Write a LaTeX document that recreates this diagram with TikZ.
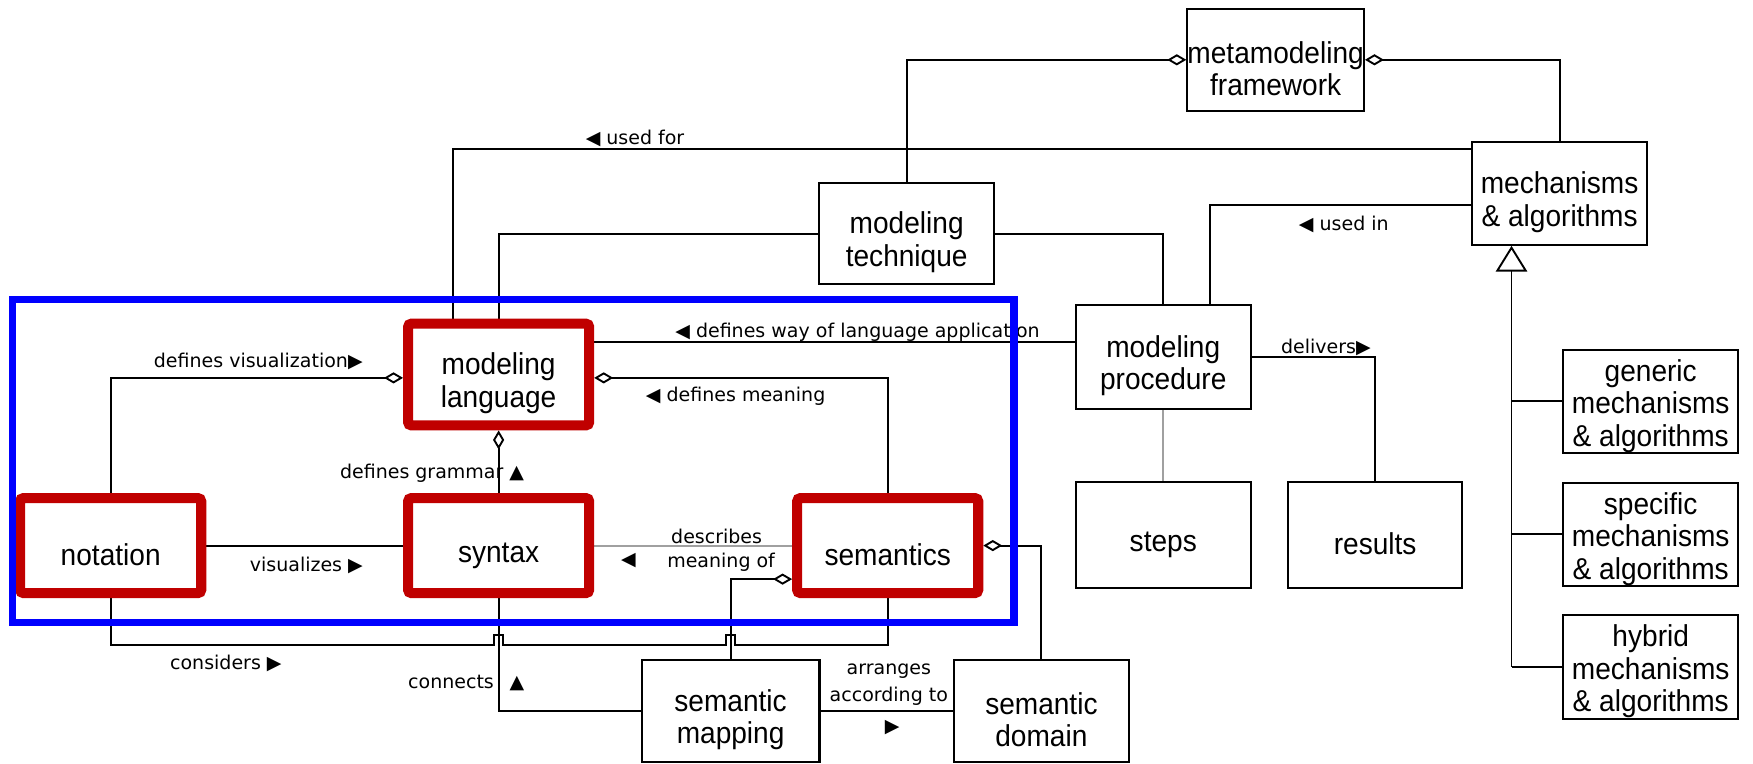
\documentclass[tikz,border=0pt]{standalone}
\usepackage{fontspec}
\setmainfont[FakeStretch=0.93]{Liberation Sans}
\newfontfamily\lblfont{DejaVu Sans}
\usetikzlibrary{arrows.meta,calc,backgrounds}
\definecolor{hlred}{RGB}{192,0,0}
\definecolor{hlblue}{RGB}{0,0,255}
\definecolor{lightline}{RGB}{160,160,160}
% zero-width strut on a box's first line: sets its text a little lower
\newcommand\boxstrut[1][35pt]{\rule{0pt}{#1}}

\begin{document}
\begin{tikzpicture}[x=1pt,y=-1pt,
  boxtext/.style={align=center, font=\fontsize{27}{29}\selectfont},
  box/.style={boxtext, draw, line width=1.8pt, fill=white, inner sep=0pt,
    minimum width=157pt, minimum height=92pt},
  redbox/.style={boxtext, draw=hlred, line width=9pt, rounded corners=3pt,
    fill=white, inner sep=0pt, outer sep=4.5pt, minimum width=162pt,
    minimum height=85pt},
  conn/.style={line width=1.7pt},
  lightconn/.style={line width=1.8pt, draw=lightline},
  aggS/.style={{Diamond[open,length=17pt,width=10pt]}-},
  aggE/.style={-{Diamond[open,length=17pt,width=10pt]}},
  lbl/.style={font=\lblfont\fontsize{17}{20}\selectfont, inner sep=0pt}
]
\useasboundingbox (0,0) rectangle (1568,683);

% plain concept boxes
\node[box, minimum width=158pt, minimum height=91pt] (mf) at (1141,53.5) {\boxstrut metamodeling\\framework};
\node[box] (mech) at (1395,173) {\boxstrut mechanisms\\\& algorithms};
\node[box, minimum height=90pt] (tech) at (811,209) {\boxstrut modeling\\technique};
\node[box, minimum height=93pt] (proc) at (1040.5,319.5) {\boxstrut modeling\\procedure};
\node[box, minimum height=95pt] (steps) at (1040.5,478.5) {\boxstrut steps};
\node[box, minimum width=156pt, minimum height=95pt] (res) at (1230,478.5) {\boxstrut results};
\node[box] (gen) at (1476.5,359) {\boxstrut[28pt]generic\\mechanisms\\\& algorithms};
\node[box] (spec) at (1476.5,478) {\boxstrut[28pt]specific\\mechanisms\\\& algorithms};
\node[box, minimum height=93pt] (hyb) at (1476.5,596.5) {\boxstrut[28pt]hybrid\\mechanisms\\\& algorithms};
\node[box, minimum width=159pt] (smap) at (653.5,636) {\boxstrut semantic\\mapping};
\node[box] (sdom) at (931.5,636) {\boxstrut semantic\\domain};

% highlighted language components
\node[redbox, minimum height=91pt] (ml) at (446,335) {\boxstrut modeling\\language};
\node[redbox] (nota) at (99,488) {\boxstrut notation};
\node[redbox] (syn) at (446,488) {\boxstrut syntax};
\node[redbox] (sem) at (794,488) {\boxstrut semantics};

% helper points
\path ($(ml.east)+(0,-29)$) coordinate (wayS);
\path ($(mech.north west)+(0,7)$) coordinate (forS);
\path ($(ml.north)+(-41,0)$) coordinate (forE);
\path ($(mech.west)+(0,10)$) coordinate (inS);
\path ($(proc.north)+(42,0)$) coordinate (inE);
\coordinate (cy) at (0,577);
\path ($(mech.south)+(-43,0)$) coordinate (gx);

\begin{scope}[on background layer]
  \fill[white] (0,0) rectangle (1568,683);
  \draw[conn, aggS] (mf.west) -| (tech.north);
  \draw[conn, aggS] (mf.east) -| (mech.north);
  \draw[conn] (forS) -| (forE);
  \draw[conn] (tech.west) -| (ml.north);
  \draw[conn] (tech.east) -| (proc.north);
  \draw[conn] (inS) -| (inE);
  \draw[conn] (wayS) -- (proc.west |- wayS);
  \draw[conn, aggS] ($(ml.west)+(0,3)$) -| (nota.north);
  \draw[conn, aggS] ($(ml.east)+(0,3)$) -| (sem.north);
  \draw[conn, aggS] (ml.south) -- (syn.north);
  \draw[conn] (nota.east) -- (syn.west);
  \draw[lightconn] (syn.east) -- (sem.west);
  \draw[conn] (nota.south) -- (nota.south |- cy)
     -- ($(syn.south |- cy)+(-4,0)$) -- ++(0,-9) -- ++(8,0) -- ++(0,9)
     -- ($(smap.north |- cy)+(-4,0)$) -- ++(0,-9) -- ++(8,0) -- ++(0,9)
     -- (sem.south |- cy) -- (sem.south);
  \draw[conn] (syn.south) |- (smap.west);
  \draw[conn, aggE] (smap.north) |- ($(sem.west)+(0,30)$);
  \draw[conn] (smap.east) -- (sdom.west);
  \draw[conn, aggS] (sem.east) -| (sdom.north);
  \draw[conn] (proc.east) -| (res.north);
  \draw[lightconn] (proc.south) -- (steps.north);
  \draw[conn, -{Triangle[open,length=23pt,width=28pt]}] (gx |- hyb.west) -- (gx);
  \draw[conn] (gx |- gen.west) -- (gen.west);
  \draw[conn] (gx |- spec.west) -- (spec.west);
  \draw[conn] (gx |- hyb.west) -- (hyb.west);
\end{scope}

% relation labels
\node[lbl] (lfor) at (568,124) {◀ used for};
\node[lbl] (lin) at (1202,201) {◀ used in};
\node[lbl] (lway) at (767,297) {◀ defines way of language application};
\node[lbl] (lvis) at (231,323) {defines visualization▶};
\node[lbl] (lmean) at (658,354) {◀ defines meaning};
\node[lbl, anchor=east] (lgram) at (469,423) {defines grammar ▲};
\node[lbl] (lvz) at (274,506) {visualizes ▶};
\node[lbl] (ldesc) at (641,480) {describes};
\node[lbl] (lmof) at (645,503) {meaning of};
\node[lbl] (lmofT) at (562,501) {◀};
\node[lbl] (lcons) at (202,593) {considers ▶};
\node[lbl, anchor=east] (lconn) at (469,611) {connects\hspace{14pt}▲};
\node[lbl] (larr) at (795,600) {arranges};
\node[lbl] (lacc) at (795,623) {according to};
\node[lbl] (larrT) at (798,651) {▶};
\node[lbl] (ldel) at (1186,311) {delivers▶};

% frame around the language part
\draw[draw=hlblue, line width=6.5pt] (11,268) rectangle (907,557);
\end{tikzpicture}
\end{document}
